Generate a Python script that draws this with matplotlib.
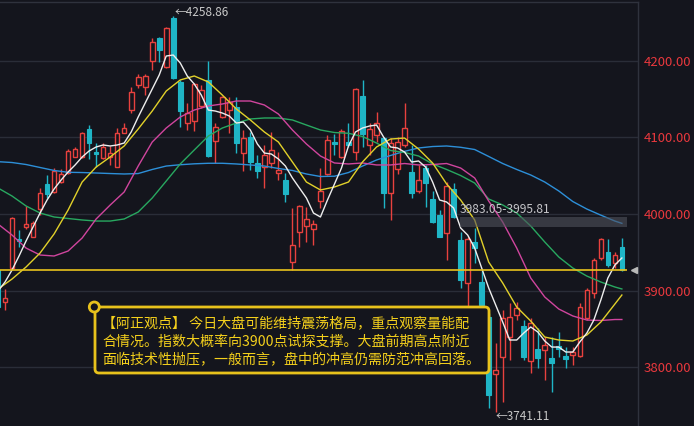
import numpy as np
import matplotlib.pyplot as plt
from matplotlib.patches import Rectangle, FancyBboxPatch, Circle
from matplotlib.transforms import IdentityTransform

plt.rcParams['font.family'] = ['Noto Sans CJK SC', 'DejaVu Sans']

# daily candles (first one is cut by the left edge)
opens = [3926.8, 3885.0, 3929.8, 3966.9, 3983.4, 3970.3, 4006.5, 4039.0, 4028.8, 4041.4,
         4053.0, 4075.0, 4074.0, 4110.7, 4081.5, 4072.8, 4074.3, 4061.8, 4106.3, 4136.0,
         4168.6, 4165.6, 4200.4, 4229.7, 4191.8, 4255.8, 4173.0, 4119.4, 4122.0, 4141.0,
         4175.2, 4095.8, 4126.4, 4136.0, 4140.3, 4080.2, 4101.0, 4067.0, 4061.0, 4067.0,
         4053.2, 4044.5, 3937.7, 3976.9, 3984.8, 3980.0, 4017.4, 4052.3, 4094.5, 4074.0,
         4094.5, 4081.5, 4154.3, 4090.2, 4103.3, 4099.0, 4027.1, 4058.4, 4090.2, 4055.3,
         4030.5, 4059.7, 4019.2, 3998.7, 3975.6, 4032.3, 3966.0, 3909.4, 3963.8, 3911.6,
         3865.8, 3790.9, 3812.7, 3839.6, 3868.0, 3853.6, 3808.2, 3823.2, 3822.0, 3811.4,
         3827.8, 3814.4, 3815.7, 3814.8, 3863.7, 3896.4, 3942.1, 3950.7, 3935.6, 3957.3]
highs = [3930.0, 3902.0, 3996.0, 3979.0, 4010.5, 3991.0, 4034.0, 4051.0, 4060.0, 4058.8,
         4085.0, 4088.0, 4107.6, 4116.3, 4092.8, 4092.5, 4089.0, 4112.0, 4118.6, 4165.6,
         4183.0, 4183.0, 4229.7, 4231.0, 4244.8, 4258.86, 4175.2, 4144.7, 4171.0, 4168.6,
         4200.0, 4119.4, 4154.0, 4152.6, 4153.3, 4109.8, 4107.6, 4077.1, 4090.2, 4107.6,
         4081.5, 4053.2, 4007.5, 4011.8, 4009.6, 3992.2, 4059.7, 4103.3, 4104.6, 4110.7,
         4118.6, 4164.3, 4175.2, 4118.6, 4133.7, 4101.0, 4099.0, 4101.0, 4144.7, 4090.2,
         4064.0, 4064.0, 4030.5, 4005.2, 4042.2, 4040.0, 3977.0, 3970.3, 3981.3, 3926.8,
         3870.0, 3831.0, 3874.5, 3883.3, 3885.4, 3861.5, 3863.7, 3850.6, 3839.6, 3839.6,
         3846.0, 3826.6, 3826.6, 3883.3, 3903.0, 3942.1, 3968.2, 3966.9, 3950.7, 3968.2]
lows = [3875.0, 3874.5, 3928.0, 3957.0, 3980.0, 3970.0, 3998.7, 4021.0, 4028.0, 4040.0,
        4052.0, 4074.0, 4072.8, 4071.5, 4061.8, 4071.5, 4064.0, 4061.0, 4105.5, 4131.6,
        4164.3, 4155.6, 4188.2, 4199.0, 4190.5, 4176.5, 4114.0, 4109.8, 4109.0, 4138.6,
        4074.5, 4067.0, 4125.0, 4105.5, 4079.4, 4056.6, 4057.5, 4046.7, 4033.6, 4059.7,
        4044.5, 4016.0, 3926.8, 3957.3, 3963.8, 3959.5, 4007.5, 4051.0, 4077.1, 4072.8,
        4088.0, 4070.6, 4087.2, 4077.1, 4094.5, 4007.5, 3992.2, 4052.3, 4087.2, 4020.5,
        4027.0, 4008.8, 3987.8, 3969.6, 3939.9, 3994.4, 3903.0, 3870.0, 3935.6, 3876.8,
        3746.0, 3741.11, 3754.7, 3809.0, 3861.5, 3809.0, 3791.8, 3798.3, 3783.0, 3767.7,
        3813.5, 3798.3, 3802.6, 3813.5, 3861.5, 3889.8, 3939.9, 3931.1, 3929.0, 3926.0]
closes = [3878.4, 3890.0, 3994.4, 3964.3, 3987.0, 3988.6, 4027.5, 4026.0, 4056.0, 4052.3,
          4082.4, 4084.6, 4106.3, 4093.2, 4078.4, 4088.0, 4080.0, 4106.3, 4112.0, 4159.9,
          4179.5, 4180.4, 4225.2, 4214.4, 4242.7, 4177.4, 4135.0, 4131.6, 4170.0, 4162.0,
          4075.8, 4114.0, 4152.6, 4146.8, 4093.2, 4099.0, 4068.4, 4056.6, 4077.1, 4083.7,
          4057.5, 4026.2, 3959.5, 4010.5, 3993.1, 3987.0, 4030.0, 4096.7, 4091.1, 4108.5,
          4090.2, 4163.0, 4104.6, 4110.7, 4119.4, 4027.1, 4093.2, 4094.5, 4112.0, 4027.9,
          4044.5, 4040.9, 3990.0, 3970.3, 4036.6, 3995.7, 3913.7, 3966.9, 3955.2, 3881.0,
          3763.4, 3796.1, 3863.7, 3865.8, 3876.8, 3813.5, 3857.8, 3811.4, 3828.7, 3804.8,
          3823.2, 3810.0, 3820.0, 3878.0, 3900.7, 3939.9, 3966.9, 3933.4, 3946.4, 3926.8]

# moving averages
ma5 = [3899.3, 3911.1, 3926.8, 3945.1, 3964.7, 3983.0, 4001.3, 4018.3, 4032.7, 4044.4,
       4054.9, 4064.1, 4074.5, 4082.4, 4087.6, 4090.2, 4088.9, 4090.2, 4092.8, 4107.2,
       4126.8, 4145.1, 4163.4, 4181.7, 4206.5, 4207.8, 4197.4, 4180.4, 4169.9, 4155.5,
       4135.9, 4134.6, 4132.0, 4128.1, 4118.9, 4120.2, 4109.8, 4091.5, 4079.7, 4078.4,
       4071.9, 4062.7, 4047.1, 4034.0, 4020.9, 4001.3, 3996.1, 4018.3, 4039.2, 4060.1,
       4088.9, 4107.2, 4112.4, 4115.0, 4116.3, 4100.7, 4087.6, 4086.3, 4081.0, 4068.0,
       4069.3, 4061.4, 4041.8, 4018.3, 4015.7, 4007.8, 3981.7, 3972.5, 3955.5, 3929.4,
       3903.3, 3881.0, 3858.8, 3835.3, 3835.3, 3844.4, 3852.3, 3845.8, 3834.0, 3826.1,
       3826.1, 3819.6, 3819.6, 3832.7, 3844.4, 3861.4, 3887.6, 3916.3, 3933.3, 3942.5]
ma_idx = list(range(0, 90, 2)) + [89]
ma10 = [3901.9, 3915.0, 3930.7, 3949.0, 3973.9, 4005.2, 4041.8, 4061.4, 4074.5, 4088.9,
        4111.1, 4134.6, 4160.8, 4175.2, 4180.4, 4172.6, 4155.5, 4137.3, 4122.9, 4107.2,
        4094.1, 4068.0, 4041.8, 4031.4, 4035.3, 4041.8, 4068.0, 4087.6, 4098.0, 4099.3,
        4084.9, 4066.7, 4039.2, 4018.3, 3992.2, 3937.2, 3909.8, 3878.4, 3860.1, 3839.2,
        3835.3, 3834.0, 3841.8, 3858.8, 3882.3, 3894.1]
ma20 = [3986.9, 3972.5, 3955.5, 3946.4, 3945.1, 3951.6, 3968.6, 3993.5, 4011.7, 4028.8,
        4062.7, 4094.1, 4112.4, 4126.8, 4135.9, 4141.2, 4143.8, 4147.7, 4147.7, 4142.5,
        4130.7, 4109.8, 4091.5, 4075.8, 4066.7, 4065.4, 4066.7, 4064.1, 4064.1, 4066.0,
        4064.1, 4064.7, 4066.0, 4060.1, 4047.1, 4017.0, 3989.5, 3955.5, 3916.3, 3891.5,
        3875.8, 3866.7, 3861.4, 3860.8, 3862.1, 3862.1]
ma30 = [4034.0, 4023.5, 4010.5, 4001.3, 3996.1, 3994.1, 3992.2, 3990.8, 3990.8, 3993.5,
        4002.6, 4020.9, 4043.1, 4065.4, 4083.7, 4101.9, 4112.4, 4118.9, 4124.2, 4125.5,
        4125.5, 4122.9, 4116.3, 4109.8, 4106.5, 4105.5, 4101.3, 4092.8, 4083.0, 4080.4,
        4075.8, 4065.4, 4058.2, 4050.3, 4040.5, 4019.6, 4011.8, 4001.3, 3984.3, 3963.4,
        3943.8, 3929.4, 3918.9, 3911.1, 3904.6, 3902.0]
ma60 = [4068.4, 4067.3, 4064.7, 4060.8, 4056.9, 4054.5, 4054.2, 4053.6, 4052.9, 4052.3,
        4052.9, 4058.2, 4062.7, 4064.4, 4065.6, 4066.3, 4066.3, 4065.4, 4064.1, 4062.7,
        4059.5, 4056.9, 4052.3, 4049.0, 4049.4, 4054.2, 4062.7, 4070.6, 4076.5, 4081.9,
        4086.3, 4088.2, 4088.9, 4087.2, 4084.3, 4075.2, 4066.0, 4058.2, 4051.0, 4041.8,
        4030.1, 4016.3, 4006.5, 3998.5, 3990.8, 3987.8]

price_now = 3926.8
high_mark = 4258.86
low_mark = 3741.11
band_lo, band_hi = 3983.05, 3995.81
yticks = [3800, 3900, 4000, 4100, 4200]
view_lines = ["【阿正观点】 今日大盘可能维持震荡格局，重点观察量能配",
              "合情况。指数大概率向3900点试探支撑。大盘前期高点附近",
              "面临技术性抛压，一般而言，盘中的冲高仍需防范冲高回落。"]

BG = '#14151d'
UP = '#e8413e'
DOWN = '#1fb5c6'
GOLD = '#e8c21c'

fig = plt.figure(figsize=(6.94, 4.26), dpi=100, facecolor=BG)
ax = fig.add_axes([0, 0, 638 / 694, 424.3 / 426], facecolor=BG)

x = np.arange(len(opens))
w = 0.66
for i in x:
    o, h, l, c = opens[i], highs[i], lows[i], closes[i]
    col = UP if c >= o else DOWN
    ax.vlines(i, l, h, color=col, lw=1, zorder=2)
    body = max(abs(c - o), 0.9)
    if c >= o:
        ax.add_patch(Rectangle((i - w / 2, min(o, c)), w, body, facecolor=BG,
                               edgecolor=UP, lw=1, zorder=3))
    else:
        ax.add_patch(Rectangle((i - w / 2, min(o, c)), w, body, facecolor=DOWN,
                               edgecolor=DOWN, lw=0.8, zorder=3))

ax.plot(ma_idx, ma60, color='#2d8fd8', lw=1, zorder=4)
ax.plot(ma_idx, ma30, color='#28a860', lw=1, zorder=4)
ax.plot(ma_idx, ma20, color='#d0459e', lw=1, zorder=4)
ax.plot(ma_idx, ma10, color='#e2d12a', lw=1, zorder=4)
ax.plot(x, ma5, color='#eeeeee', lw=1, zorder=4)

# current price line + marker
ax.hlines(price_now, 0, 89.7, color=GOLD, lw=1.2, zorder=5)
ax.plot([90.8], [price_now], marker='<', color='#b8b8b8', ms=4.5, zorder=6, clip_on=False)

# resistance band
ax.add_patch(Rectangle((65.9, band_lo), 89.7 - 65.9, band_hi - band_lo,
                       facecolor='#50525c', alpha=0.6, lw=0, zorder=5))
ax.text(65.9, 4005.9, f'{band_lo:.2f}-{band_hi:.2f}', color='#c4c4c8', fontsize=8.7,
        ha='left', va='center', zorder=6)

ax.text(25.2, 4263.7, f'←{high_mark:.2f}', color='#c8c8c8', fontsize=8.5,
        ha='left', va='center', zorder=6)
ax.text(71.0, 3735.9, f'←{low_mark:.2f}', color='#c8c8c8', fontsize=8.5,
        ha='left', va='center', zorder=6)

ax.set_xlim(0.285, 91.3)
ax.set_ylim(3722.9, 4277.5)
ax.set_yticks(yticks)
ax.set_yticklabels([f'{v:.2f}' for v in yticks])
ax.yaxis.tick_right()
ax.tick_params(axis='y', length=0, pad=4, labelsize=9.5, labelcolor='#e8383d')
ax.set_xticks([])
ax.grid(axis='y', color='#2a2d38', lw=1)
ax.set_axisbelow(True)
for s in ['left', 'bottom']:
    ax.spines[s].set_visible(False)
for s in ['top', 'right']:
    ax.spines[s].set_color('#2f323d')
    ax.spines[s].set_linewidth(1)

# commentary box (pixel coordinates)
H = 426
box = FancyBboxPatch((95, H - 373), 394, 66, boxstyle='round,pad=0,rounding_size=4',
                     transform=IdentityTransform(), facecolor=BG, edgecolor=GOLD,
                     lw=2, zorder=10)
fig.add_artist(box)
fig.add_artist(Circle((94.3, H - 307), 5, transform=IdentityTransform(),
                      facecolor=BG, edgecolor=GOLD, lw=2, zorder=11))
for k, line in enumerate(view_lines):
    fig.text(102, H - (323.3 + 18.2 * k), line, transform=IdentityTransform(),
             color='#f4d01c', fontsize=10.1, fontweight='medium',
             ha='left', va='center', zorder=12)

fig.savefig('out.png', dpi=100, facecolor=BG)
